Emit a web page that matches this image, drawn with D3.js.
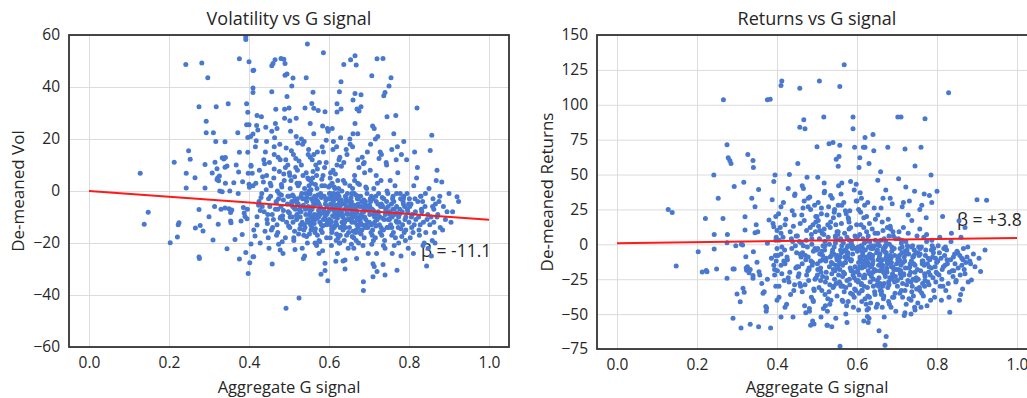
<!DOCTYPE html>
<html>
<head>
<meta charset="utf-8">
<script src="https://cdn.jsdelivr.net/npm/d3@7"></script>
<style>
  body { margin: 0; background: #fff; }
  text { font-family: "Open Sans", sans-serif; fill: #262626; }
</style>
</head>
<body>
<svg id="chart" width="1027" height="398"></svg>
<script>
// aggregate G signal per company (shared by both panels)
const gSignal = [
  0.128,0.138,0.148,0.203,0.213,0.221,0.223,0.225,0.242,0.243,
  0.243,0.249,0.253,0.265,0.266,0.275,0.275,0.275,0.276,0.278,
  0.282,0.285,0.29,0.29,0.293,0.293,0.297,0.3,0.308,0.31,
  0.311,0.314,0.315,0.317,0.318,0.32,0.32,0.322,0.323,0.324,
  0.326,0.327,0.33,0.333,0.333,0.337,0.34,0.34,0.34,0.341,
  0.341,0.345,0.345,0.348,0.35,0.352,0.354,0.354,0.355,0.357,
  0.362,0.365,0.368,0.372,0.373,0.374,0.376,0.376,0.376,0.38,
  0.383,0.384,0.386,0.388,0.39,0.392,0.392,0.392,0.394,0.394,
  0.395,0.396,0.397,0.397,0.397,0.398,0.398,0.4,0.4,0.4,
  // 0.40 - 0.45
  0.412,0.41,0.41,0.41,0.419,0.404,0.41,0.405,0.405,0.408,
  0.401,0.41,0.416,0.418,0.42,0.402,0.405,0.41,0.412,0.412,
  0.415,0.42,0.42,0.422,0.431,0.442,0.425,0.436,0.428,0.445,
  0.426,0.43,0.433,0.437,0.44,0.443,0.447,0.428,0.434,0.449,
  0.441,0.446,0.432,0.438,0.444,0.448,0.417,0.424,0.439,0.45,
  // 0.45 - 0.50
  0.457,0.46,0.465,0.48,0.487,0.49,0.49,0.495,0.457,0.495,
  0.467,0.489,0.5,0.489,0.457,0.47,0.458,0.478,0.4925,0.474,
  0.452,0.455,0.461,0.463,0.468,0.472,0.476,0.481,0.484,0.488,
  0.451,0.459,0.466,0.471,0.477,0.483,0.486,0.491,0.494,0.498,
  0.454,0.462,0.469,0.473,0.479,0.482,0.485,0.493,0.496,0.499,
  0.453,0.458,0.464,0.47,0.475,0.48,0.487,0.491,0.497,0.478,
  0.456,0.463,0.468,0.474,0.481,0.486,0.492,0.497,0.466,0.484,
  // 0.50 - 0.55
  0.507,0.51,0.543,0.546,0.54,0.525,0.506,0.517,0.53,0.54,
  0.5,0.51,0.526,0.537,0.502,0.513,0.52,0.533,0.548,0.544,
  0.503,0.508,0.515,0.521,0.527,0.532,0.538,0.541,0.547,0.549,
  0.501,0.506,0.512,0.518,0.523,0.529,0.535,0.539,0.545,0.55,
  0.504,0.509,0.514,0.519,0.524,0.531,0.536,0.542,0.546,0.55,
  0.502,0.511,0.516,0.522,0.528,0.534,0.537,0.543,0.548,0.518,
  0.505,0.512,0.517,0.523,0.527,0.533,0.539,0.544,0.549,0.52,
  0.503,0.509,0.515,0.52,0.526,0.531,0.538,0.542,0.547,0.53,
  0.501,0.507,0.514,0.519,0.525,0.532,0.536,0.541,0.546,0.55,
  // 0.55 - 0.60
  0.586,0.557,0.562,0.573,0.59,0.597,0.58,0.59,0.59,0.557,
  0.568,0.5575,0.594,0.557,0.555,0.552,0.565,0.575,0.585,0.598,
  0.553,0.558,0.561,0.566,0.57,0.574,0.578,0.583,0.588,0.593,
  0.551,0.556,0.56,0.564,0.569,0.572,0.577,0.582,0.587,0.596,
  0.554,0.559,0.563,0.567,0.571,0.576,0.581,0.584,0.589,0.595,
  0.552,0.557,0.562,0.568,0.573,0.577,0.582,0.586,0.591,0.599,
  0.555,0.56,0.565,0.569,0.574,0.579,0.584,0.588,0.593,0.597,
  0.553,0.558,0.563,0.566,0.572,0.576,0.58,0.585,0.59,0.594,
  0.551,0.555,0.561,0.565,0.571,0.575,0.581,0.586,0.592,0.598,
  0.554,0.559,0.564,0.57,0.578,0.583,0.589,0.595,0.56,0.575,
  // 0.60 - 0.65
  0.637,0.62,0.63,0.626,0.62,0.63,0.62,0.64,0.64,0.635,
  0.616,0.607,0.605,0.642,0.603,0.608,0.612,0.615,0.619,0.623,
  0.601,0.606,0.61,0.614,0.618,0.622,0.627,0.631,0.636,0.641,
  0.602,0.607,0.611,0.617,0.621,0.625,0.629,0.633,0.638,0.644,
  0.604,0.609,0.613,0.616,0.62,0.624,0.628,0.632,0.639,0.646,
  0.603,0.608,0.612,0.618,0.623,0.626,0.631,0.635,0.64,0.648,
  0.601,0.605,0.61,0.615,0.619,0.624,0.63,0.634,0.643,0.649,
  0.602,0.606,0.611,0.617,0.622,0.627,0.632,0.637,0.641,0.645,
  0.604,0.609,0.614,0.619,0.625,0.629,0.633,0.638,0.644,0.647,
  0.6,0.607,0.613,0.618,0.621,0.628,0.636,0.64,0.646,0.65,
  0.603,0.612,0.62,0.626,0.631,0.639,0.645,0.608,0.617,0.634,
  // 0.65 - 0.70
  0.654,0.665,0.668,0.665,0.68,0.66,0.67,0.675,0.68,0.686,
  0.686,0.67,0.673,0.655,0.677,0.657,0.662,0.667,0.672,0.678,
  0.651,0.656,0.66,0.664,0.669,0.674,0.679,0.683,0.689,0.694,
  0.652,0.657,0.661,0.666,0.671,0.675,0.681,0.685,0.69,0.697,
  0.653,0.658,0.663,0.667,0.672,0.677,0.682,0.687,0.692,0.698,
  0.651,0.655,0.66,0.664,0.668,0.673,0.679,0.684,0.689,0.695,
  0.652,0.657,0.662,0.666,0.67,0.676,0.68,0.685,0.691,0.696,
  0.654,0.659,0.663,0.668,0.674,0.678,0.683,0.688,0.693,0.699,
  0.653,0.658,0.664,0.669,0.673,0.681,0.686,0.69,0.694,0.66,
  0.656,0.661,0.667,0.671,0.676,0.682,0.687,0.692,0.697,0.665,
  // 0.70 - 0.75
  0.707,0.72,0.735,0.75,0.745,0.74,0.737,0.745,0.71,0.72,
  0.71,0.713,0.735,0.74,0.702,0.72,0.745,0.703,0.708,0.712,
  0.701,0.706,0.711,0.716,0.721,0.726,0.731,0.736,0.741,0.747,
  0.704,0.709,0.714,0.718,0.723,0.728,0.733,0.738,0.743,0.748,
  0.702,0.707,0.712,0.717,0.722,0.727,0.732,0.737,0.742,0.749,
  0.703,0.708,0.714,0.719,0.724,0.729,0.734,0.739,0.744,0.728,
  0.705,0.71,0.715,0.72,0.725,0.73,0.735,0.74,0.745,0.716,
  0.701,0.706,0.711,0.717,0.723,0.73,0.736,0.742,0.748,0.709,
  // 0.75 - 0.80
  0.755,0.77,0.767,0.76,0.785,0.77,0.766,0.76,0.776,0.792,
  0.751,0.756,0.761,0.765,0.77,0.774,0.779,0.784,0.789,0.795,
  0.752,0.757,0.762,0.768,0.772,0.777,0.782,0.787,0.792,0.798,
  0.753,0.758,0.763,0.769,0.773,0.778,0.783,0.788,0.794,0.799,
  0.754,0.759,0.764,0.771,0.775,0.78,0.786,0.79,0.796,0.762,
  0.757,0.763,0.769,0.774,0.78,0.786,0.791,0.797,0.758,0.781,
  // 0.80 - 0.85
  0.82,0.844,0.829,0.832,0.8,0.805,0.81,0.815,0.824,0.838,
  0.802,0.807,0.812,0.817,0.822,0.826,0.831,0.836,0.841,0.847,
  0.803,0.808,0.813,0.819,0.825,0.83,0.835,0.84,0.845,0.85,
  0.801,0.806,0.811,0.816,0.821,0.828,0.834,0.842,0.848,0.814,
  // 0.85 +
  0.857,0.853,0.882,0.92,0.862,0.862,0.86,0.855,0.924,0.909,
  0.886,0.864,0.9,0.858,0.866,0.872,0.878,0.891,0.868,0.875,
  0.852,0.859,0.865,0.87,0.877,0.884,0.895,0.905,0.856,0.87,
  // upper / lower bands of the main cloud
  0.463,0.518,0.553,0.584,0.611,0.643,0.672,0.704,0.731,0.768,
  0.478,0.502,0.534,0.571,0.598,0.627,0.659,0.688,0.722,0.757,
  0.444,0.511,0.562,0.593,0.619,0.652,0.683,0.713,0.744,0.787,
  0.472,0.521,0.547,0.578,0.604,0.628,0.651,0.689,0.718,0.752
];

// de-meaned volatility (left panel)
const volDemeaned = [
  6.8,-12.8,-8.2,-19.9,11.1,-17.7,-13,-12.2,48.7,6.8,
  1.2,15.5,12.2,5.1,-14.2,32.4,-7.1,-25.4,-26,-13.3,
  49.2,-15.4,10.2,1.2,26.8,22.4,43.6,-9.9,6.9,-18.8,
  22.4,-6,11.1,19,32.4,8.6,4.4,5.1,-12.8,3.9,
  5.8,0,-7,12.8,-0.3,12.3,-6.5,9.1,18.9,12.9,
  3,9.6,-22.2,33.6,-6.8,0,-8.3,-11.5,-12.2,-7.3,
  3.2,-18.7,10,22.4,-1,7.3,14.9,50.9,-26.2,-11.5,
  -16.7,3.6,-6.3,-8.5,-9.8,59.3,58.3,-23.7,33.6,25.5,
  -10.7,-7,30.3,14.9,20.6,6.8,-31.7,49.7,25.5,2.6,
  46.4,46.3,39.6,37.9,25.2,21,21.9,9.9,9.5,6.8,
  1.4,2,17,19.3,29,-27.6,-20.4,-25.3,-25.3,-15,
  -17.3,-13.1,-9.9,23.5,28.6,24.5,-4,3.5,-7.5,-11,
  8,-2.5,-6,12,-15.5,0.5,-9,-20,5.5,-3,
  15,-12.5,-1,-8,6,-18,3,-5.5,10.5,-22,
  48.2,49,50.5,51,50.7,49,44.5,45,38.2,36.3,
  31.4,31.4,31.9,28,23,24,-28.1,-22.7,-45.1,-3,
  -6,2,-11,14,-4.5,-16,7.5,-1.5,-9.5,4,
  11,-14,-7,0,18,-19.5,-3.5,9,-12,-8,
  -2,5,-17,13,-10,1.5,-24,16.5,-5,-13.5,
  3,-9,20.5,-13,-1,-6,6.5,-18,10,-10.5,
  -15,8.5,-4,-20.5,2.5,-7.5,12,-2,26,-11,
  40.4,43.5,43.6,56.5,31.9,-41.2,-5,9,-8,-14,
  -2,-12,3,-17,6,-6.5,-9,-22,14,-4,
  1,-10,-3.5,8,-14.5,-1,19,-7,-11.5,4.5,
  -8.5,15.5,-19,-4,2,-13,6,-25,-2.5,-9,
  23,-6,5.5,-11,-16.5,10,-5.5,-1,-20,2,
  -14,-2,-7,18.5,-10,-3,-15,7,-6,28,
  4,-18,12.5,-5,-8,-12,1,-17.5,16,-4.5,
  -10,-1.5,-22.5,3,-7,20,-13,-9,5,-2,
  7,-4,-15.5,-9.5,11.5,-6,-26,-3,-11,0,
  53.2,33.7,31.8,31,30.5,-34.5,-32,-30.6,-27.8,-12,
  -5,-7,-9,3,-15,-1,-11,-19,6,-3,
  -8,12,-4,-14.5,1,-10,-6.5,17,-2,-13,
  -16.5,-3,7.5,-9,-21,-1.5,-12,2,-7.5,24,
  4,-11,-5.5,10,-17,-8,-2.5,-13.5,9,-6,
  -1,-14,14,-3,-9,-19.5,4.5,-11,-5,1.5,
  -10,-4,-16,6,-7.5,-1,-23,-8.5,19.5,-12,
  26,-6,-12.5,2.5,-4,11,-15,-2,-10,-18,
  -7,0.5,-9.5,-20,8.5,-5,-13,15,-3.5,-8,
  -13,5,-2,-10.5,-6,-16,2,-11.5,38,-24,
  48.7,33.6,42,38.2,30.4,31.5,-6,-30,-26.5,-26.9,
  -9,-2,-12,-4,5,-15,-7.5,1,-10,-18,
  -11,-3,8,-13.5,-5.5,-1,-20,-8,4,-14,
  2,-16,-7,-2.5,-10.5,12,-4,-12,-19,-6,
  -5,-9.5,-14,6.5,-3,-8,-17,0,-11,-1,
  -13,3,-6,-19,-9,-4.5,9.5,-15,-7,-22,
  -1,-11.5,16,-8,-13,1,-5,-10,-3,-16,
  -7,-21,-4,-12,4,-9,-14,11,-2,-8.5,
  7,-6,-10,-16.5,-2,20.5,-12,-5,-17,-11,
  -3,-14.5,1.5,-8,-24,-6,-13,3,-9,-4,
  -18,-1,10,-20,-3.5,-12,14,24,-27,-9,
  50.5,52,48.5,37.5,37,35,31.5,30.8,32.4,-38.3,
  -34.9,-8,-14,-5,-10,-1,-18,-6,3,-12,
  -11,-4,-15.5,6,-8.5,-20,-2,-13,-7,1,
  2,-12,-6.5,-16,-3,9,-9,-21,-5,-14,
  -7,-17.5,-1,-10,12,-6,-15,-3.5,-11,-24,
  -14,-2.5,-9,4,-19,-5,-12.5,-8,7,-1,
  -4,-10.5,-22,-7,-13,2.5,-16.5,-10,-4,15,
  -9,1,-5.5,-15,-2,-11,-6,-18,-13,-7.5,
  18,-8,-12,-26,-3,-9.5,10.5,-14,-6,22,
  -20.5,-6,-1.5,-11,-16,-4,-8,1.5,-12,26,
  44.3,50.9,51,40.4,28.6,37.9,36.6,-8,-33,-31,
  -28,-29,-28.3,-32.3,-6,-11,-14,-3,-17,-9,
  -12,-2,-7.5,-18,3,-13,-5,-21,-9,-1,
  -4,-15,-10,6,-8,-16,-2.5,-11,11,-6,
  -9,-20.5,1,-13.5,-5,-10,-17,-3,-7,-14,
  8,-7,-12,-24,-1,-6,-10.5,-19,-4,15,
  -16,-3,-8.5,-11,12.5,-14,-6,-22,0,20,
  -5.5,-13,-19,-2,-9,4,-15,-8,-11,25,
  43.6,-30.5,29,-7,-4,-12,-18,-2,-9,-15,
  -11,-5,-16,2,-8.5,-20,-3,-13,-6,-1,
  -9,-14,-4,-11.5,7,-7,-17.5,-2,-10,-22,
  4,-10,-21,-6,-14,-1,-8,-16,12,-5,
  -13,-3,-9,17,-12,-25,-5,-11,-7,22,
  -17,-7,-1,-10,-14.5,-3,-19,-8,-24,14,
  31.9,-28.8,-2,-8,-12,-5,-16,-3,-10,-20,
  -6,-14,2,-11,-4,-17,-7,-12,-1,-9,
  -18,-9,-13,5,-15,-2,-21,-6,-11,1,
  -3,-10,-24,-8,9,-13,-4,-16,-22,15,
  21.4,15.6,3.5,-2.2,-7,-12,-3,-10,-4,-8,
  -6,-16,-1,-19,-5,-9,-14,-11,4,-4,
  -13,-6,-20,-10,-2,-15,-8,-12,-25,8,
  17,21,13,25,19,16,22,18,14,12,
  12,27,18,15,23,13,17,11,21,16,
  19,14,22,11,17,20,13,24,10,19,
  -7,-3,-12,-9,-1,-14,-6,-10,-4,-8
];

// de-meaned returns (right panel)
const retDemeaned = [
  25,22.9,-15.5,-5.3,-19.8,18.6,-18.8,-19.6,49.7,7.1,
  -3.4,-17.6,33,18.6,103.6,71.4,-24.3,1.2,7.1,62,
  60,58,-17.6,-52.9,41.4,-17.6,-1,-35.5,-41.2,-60,
  0,-0.5,-31.5,44.5,-34.3,19.7,10.2,-8.9,-17,-18.5,
  -16,64.3,-20.3,-57.2,-18,33,-22.4,60,-24.3,55,
  -5.3,26.9,8.3,14,-12.8,9,39.3,-59,-19.6,-22,
  -28,-35,-34,-44.5,-48,-45.7,0.7,103.6,-25,17.4,
  104,-60,-10,32,15,-15,12.6,45,-18,-22,
  49.7,-8,3,-30,20,-12,5,-40,10,-3,
  117,113.8,-52,8,-4,22,-15,-30,3,12,
  -19,-7,30,-26,14,-8,-38,27,-2,-21,
  5,-14,-45,18,50,-33,-9,4,-24,36,
  -11,-27,9,-3,-52,21,-17,40,-36,-6,
  13,-1,-20,24,-29,6,-12,-43,2,-16,
  111.9,-9,26,-18,4,-40,14,-25,83.9,-3,
  89.3,-13,20,-55,-28,82.9,-7,33,-57,10,
  58,-21,1,-34,17,-11,-2,-46,25,-15,
  6,-30,40,-8,-19,12,-38,-5,28,-24,
  -16,21,-44,3,-26,34,-12,-33,9,-4,
  -23,15,-6,-29,48,-17,0,-41,20,-9,
  2,-14,31,-22,-48,7,-32,16,-1,-58,
  -7,-20,23,5,-31,-58,117.1,91.2,72,73,
  70,-52,-58,-59,-18,8,-36,-9,61,-25,
  30,-12,-1,-27,14,-43,-6,19,-15,3,
  -22,4,-33,11,-10,27,-40,-4,-19,9,
  13,-17,-8,38,-24,0,-13,-30,6,-37,
  -3,22,-46,-12,5,16,-21,-2,-28,44,
  -31,-5,7,-20,-39,12,-14,25,-9,-1,
  17,-26,-11,2,-48,-16,33,-7,14,-34,
  -14,10,-23,-4,21,-29,-8,-18,1,-11,
  2,-14,28,-5,-22,-33,11,91.2,82.9,113.1,
  128.6,-73.1,69.5,71,63,-17,-30,5,-12,-26,
  56,-9,15,-20,-4,-44,19,-11,-1,-38,
  -8,-27,3,-15,8,-31,-6,24,-19,-3,
  -22,4,-40,30,-13,-2,-25,12,-7,-16,
  7,-18,-1,-34,22,-9,-29,0,-45,14,
  -12,36,-5,-21,-10,18,-35,-3,-24,5,
  9,-28,-14,1,-50,-7,16,-19,-2,-32,
  -16,21,-6,-41,-13,-26,3,-11,-20,31,
  42,-4,-23,-9,-1,-17,-36,6,-30,-56,
  -8,76.6,-52.9,-51.7,69.5,58,-12,78.7,-20,-3,
  69.5,62,55,67.1,-27,-10,-33,4,-16,-43,
  -5,-22,14,-8,-30,2,-13,-38,-1,-25,
  -18,7,-29,19,-4,-15,-46,-10,11,-34,
  25,-11,-2,-24,-39,9,-19,-7,-14,3,
  -26,-9,-17,1,-12,-31,15,-21,-3,-45,
  5,-35,-1,-14,-24,20,-8,-42,-18,-6,
  -20,-4,-28,12,-11,-37,2,-15,-30,8,
  -13,23,-6,-22,-47,-2,-27,-10,-1,-19,
  31,-16,-33,-4,-9,6,-23,-12,18,-29,
  -2,-41,-14,3,-21,-8,-36,37,-55,-16,
  -15,-4,-28,10,-11,-33,-2,-20,6,-24,
  -13,-72.4,-66,-62,69.5,-7,-19,-37,2,-10,
  -26,-1,-14,-30,-5,-17,-41,13,-22,-8,
  8,-19,-34,-3,-23,-12,0,-45,-16,4,
  -11,-28,16,-20,-6,-31,-13,-2,-38,-18,
  -4,-24,3,-15,-52,-9,-27,11,-21,-35,
  21,-7,-17,-39,-2,-14,-29,-10,6,-23,
  -30,-12,-45,4,-19,18,-8,-25,-3,-14,
  1,-33,-11,-21,-6,-43,-16,9,-27,26,
  -9,-36,-20,-1,12,-24,-5,-18,-48,33,
  -12,-5,-27,6,-20,-9,-34,56.2,91.2,68.3,
  -15,-2,-40,-25,91.2,-49,-47,-10,-21,3,
  -26,-8,-33,12,-17,-1,-22,-12,-37,-6,
  4,-19,-28,-9,-43,8,-14,-30,-4,-24,
  -11,-35,-6,-21,2,-26,-16,17,-8,-32,
  -18,-3,-38,-12,-29,-7,-20,-1,-45,21,
  9,-24,-13,-33,-4,-17,-50,-9,-15,30,
  -30,-11,1,-22,-7,-39,-2,-14,-26,-19,
  -8,-23,5,69.5,49.7,90,-37,-45,-14,-3,
  -18,-31,-2,-12,-26,7,-20,-40,-9,-16,
  -6,11,-35,-15,-4,-27,-11,3,-33,-20,
  -25,-7,-14,-30,19,-10,-22,-1,-38,-13,
  -2,-19,-28,-8,-44,-16,-4,-24,-10,28,
  -33,-12,-21,2,-29,-17,-6,-27,-3,35,
  -15,-7,108.7,-48.6,38,-22,-10,-30,-4,-19,
  -12,5,-25,-3,-33,-14,-20,8,-9,-27,
  -1,-30,-18,-8,-11,-38,2,-23,-14,-5,
  -21,-6,-40,-16,-2,-28,-11,-19,-26,20,
  -8,-17,-12,-4,-10,-15,5,16.9,31.6,-19.5,
  -25.5,-32,32,-22,-3,-13,-27,-7,-18,-9,
  -6,-36,-11,-21,-2,-14,-16,-10,-40,12,
  42,37,28,45,33,26,39,47,31,36,
  27,48,35,24,43,30,52,29,41,25,
  35,26,44,39,28,46,33,27,38,30,
  -49,-44,-53,-41,-47,-56,-43,-38,-51,-42
];

const xTicks = [0, 0.2, 0.4, 0.6, 0.8, 1.0];
const volTicks = [-60, -40, -20, 0, 20, 40, 60];
const retTicks = [-75, -50, -25, 0, 25, 50, 75, 100, 125, 150];
// fitted line: value at signal 0 and at signal 1
const volFit = [0, -11.1];
const retFit = [0.8, 4.6];

const svg = d3.select('#chart');
const dotColor = '#4878cf';

function drawPanel(p) {
  const x = d3.scaleLinear().domain([-0.05, 1.05]).range([p.left, p.right]);
  const y = d3.scaleLinear().domain(p.yDomain).range([p.bottom, p.top]);
  const h = p.bottom - p.top, w = p.right - p.left;
  const g = svg.append('g');

  g.append('clipPath').attr('id', p.id)
    .append('rect').attr('x', p.left).attr('y', p.top).attr('width', w).attr('height', h);

  // grid + tick labels
  const xa = g.append('g').attr('transform', `translate(0,${p.bottom})`)
    .call(d3.axisBottom(x).tickValues(xTicks).tickFormat(d3.format('.1f'))
      .tickSize(-h).tickPadding(10));
  const ya = g.append('g').attr('transform', `translate(${p.left},0)`)
    .call(d3.axisLeft(y).tickValues(p.yTicks).tickSize(-w).tickPadding(9));
  [xa, ya].forEach(a => {
    a.select('.domain').remove();
    a.selectAll('line').attr('stroke', '#dcdcdc').attr('stroke-width', 1);
    a.selectAll('text').attr('font-size', 15.5).attr('fill', '#333')
      .style('font-family', '"Open Sans", sans-serif');
  });

  // beta annotation
  g.append('text').attr('x', x(p.betaAt[0])).attr('y', y(p.betaAt[1]))
    .attr('font-size', 17.5).attr('fill', '#333').text(p.beta);

  // scatter
  g.append('g').attr('clip-path', `url(#${p.id})`)
    .selectAll('circle').data(gSignal).enter().append('circle')
    .attr('cx', d => x(d))
    .attr('cy', (d, i) => y(p.values[i]))
    .attr('r', 2.5)
    .attr('fill', dotColor);

  // regression line
  g.append('line')
    .attr('x1', x(0)).attr('y1', y(p.fit[0]))
    .attr('x2', x(1)).attr('y2', y(p.fit[1]))
    .attr('stroke', '#ff1a1a').attr('stroke-width', 2);

  // frame
  g.append('rect').attr('x', p.left).attr('y', p.top).attr('width', w).attr('height', h)
    .attr('fill', 'none').attr('stroke', '#333').attr('stroke-width', 1.8);

  g.append('text').attr('x', (p.left + p.right) / 2).attr('y', 25)
    .attr('text-anchor', 'middle').attr('font-size', 18).attr('fill', '#333').text(p.title);
  g.append('text').attr('x', (p.left + p.right) / 2).attr('y', 393)
    .attr('text-anchor', 'middle').attr('font-size', 16.5).attr('fill', '#333').text('Aggregate G signal');
  g.append('text')
    .attr('transform', `translate(${p.labelX},${(p.top + p.bottom) / 2}) rotate(-90)`)
    .attr('text-anchor', 'middle').attr('font-size', 17).attr('fill', '#333').text(p.yLabel);
}

drawPanel({
  id: 'clipVol', left: 69, right: 509, top: 35, bottom: 347,
  yDomain: [-60, 60], yTicks: volTicks, values: volDemeaned, fit: volFit,
  title: 'Volatility vs G signal', yLabel: 'De-meaned Vol', labelX: 24,
  beta: 'β = -11.1', betaAt: [0.83, -25.4]
});

drawPanel({
  id: 'clipRet', left: 597, right: 1037, top: 35, bottom: 349,
  yDomain: [-75, 150], yTicks: retTicks, values: retDemeaned, fit: retFit,
  title: 'Returns vs G signal', yLabel: 'De-meaned Returns', labelX: 553,
  beta: 'β = +3.8', betaAt: [0.85, 13]
});
</script>
</body>
</html>
